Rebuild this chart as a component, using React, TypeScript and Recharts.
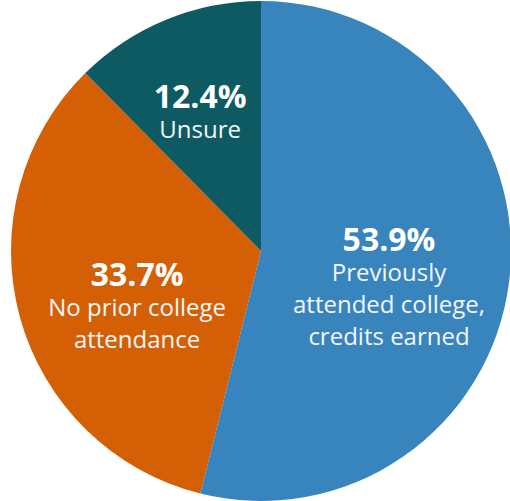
import React from "react";
import { PieChart, Pie, Cell } from "recharts";

const categories = [
  "Previously attended college, credits earned",
  "No prior college attendance",
  "Unsure",
];
const values = [53.9, 33.7, 12.4];
const labelLines = [
  ["Previously", "attended college,", "credits earned"],
  ["No prior college", "attendance"],
  ["Unsure"],
];
const colors = ["#3884BD", "#D45F05", "#0D5A62"];

const data = categories.map((name, i) => ({ name, value: values[i] }));

// layout tweaks for label anchors (polar, relative to slice mid angle)
const LABEL_LAYOUT = [
  { rFactor: 0.512, dAngle: 7 },
  { rFactor: 0.515, dAngle: 0.5 },
  { rFactor: 0.62, dAngle: 0.8 },
];

const RAD = Math.PI / 180;
const FONT = "'Open Sans', 'Noto Sans', sans-serif";

const renderLabel = (props: any) => {
  const { cx, cy, midAngle, outerRadius, index } = props;
  const lay = LABEL_LAYOUT[index];
  const ang = (midAngle + lay.dAngle) * RAD;
  const r = outerRadius * lay.rFactor;
  const x = cx + r * Math.cos(ang);
  const y = cy - r * Math.sin(ang);
  return (
    <text
      key={`lbl-${index}`}
      x={x}
      y={y}
      textAnchor="middle"
      fill="#F4F7FA"
      fontFamily={FONT}
      fontSize={24}
    >
      <tspan x={x} y={y} fontWeight={700} fontSize={32} fill="#ffffff">
        {values[index].toFixed(1) + "%"}
      </tspan>
      {labelLines[index].map((line, j) => (
        <tspan key={j} x={x} y={y + 30 + j * 32}>
          {line}
        </tspan>
      ))}
    </text>
  );
};

export default function App() {
  return (
    <div
      style={{
        position: "absolute",
        left: 0,
        top: 0,
        width: 510,
        height: 501,
        background: "#ffffff",
      }}
    >
      <PieChart width={510} height={501} margin={{ top: 0, right: 0, bottom: 0, left: 0 }}>
        <Pie
          data={data}
          dataKey="value"
          nameKey="name"
          cx={261}
          cy={251}
          outerRadius={250}
          innerRadius={0}
          startAngle={90}
          endAngle={-270}
          stroke="none"
          labelLine={false}
          label={renderLabel}
          isAnimationActive={false}
        >
          {data.map((d, i) => (
            <Cell key={d.name} fill={colors[i]} />
          ))}
        </Pie>
      </PieChart>
    </div>
  );
}
